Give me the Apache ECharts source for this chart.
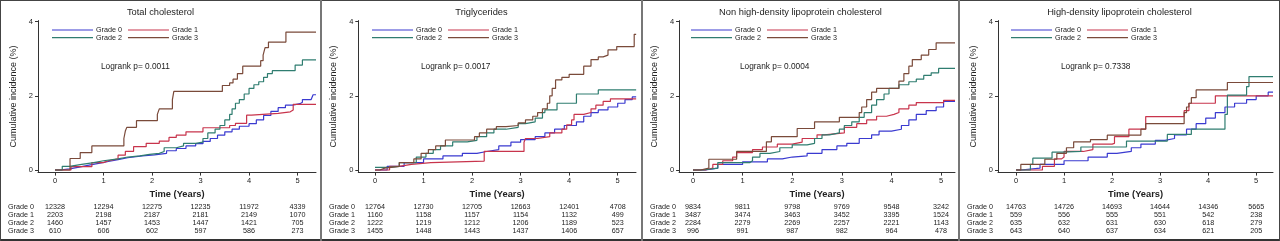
<!DOCTYPE html>
<html>
<head>
<meta charset="utf-8">
<script src="https://cdn.jsdelivr.net/npm/echarts@6/dist/echarts.min.js"></script>
<style>
  html, body { margin: 0; padding: 0; background: #fff; }
  #wrap { position: relative; width: 1280px; height: 241px; overflow: hidden; }
  .panel { position: absolute; top: 0; height: 241px; }
  .rule { position: absolute; background: #666; }
</style>
</head>
<body>
<div id="wrap"></div>
<script>
const grades = ['Grade 0', 'Grade 1', 'Grade 2', 'Grade 3'];
const gradeColors = ['#3a3ad0', '#c8344c', '#2f7d70', '#7a4a3a'];
const panelTitles = ['Total cholesterol', 'Triglycerides',
  'Non high-density lipoprotein cholesterol', 'High-density lipoprotein cholesterol'];
const logrankP = ['0.0011', '0.0017', '0.0004', '0.7338'];
const yearTicks = [0, 1, 2, 3, 4, 5];
const incidenceTicks = [0, 2, 4];

// cumulative incidence (%) step points: [years, value]
const tcGrade0 = [[0,0],[0.1,0.03],[0.3,0.08],[0.5,0.13],[0.7,0.18],[0.9,0.23],[1.1,0.28],[1.3,0.33],[1.5,0.38],[1.8,0.41],[2.05,0.45],[2.3,0.52],[2.5,0.58],[2.7,0.65],[2.9,0.71],[3.05,0.77],[3.2,0.85],[3.35,0.94],[3.5,1.03],[3.65,1.1],[3.8,1.18],[4.0,1.25],[4.15,1.35],[4.3,1.47],[4.45,1.58],[4.6,1.68],[4.75,1.75],[4.9,1.79],[5.05,1.83],[5.1,1.9],[5.28,1.93],[5.32,2.03],[5.38,2.03]];
const tcGrade1 = [[0,0],[0.33,0.09],[0.76,0.2],[1.0,0.25],[1.1,0.3],[1.3,0.4],[1.45,0.5],[1.62,0.63],[1.88,0.72],[2.15,0.78],[2.35,0.88],[2.5,0.94],[2.7,1.03],[3.05,1.14],[3.6,1.2],[3.72,1.26],[3.95,1.48],[4.05,1.53],[4.6,1.57],[4.85,1.62],[4.91,1.77],[5.38,1.77]];
const tcGrade2 = [[0,0],[0.15,0.1],[0.3,0.15],[0.55,0.2],[0.8,0.25],[1.0,0.3],[1.3,0.35],[1.5,0.38],[1.75,0.42],[1.95,0.45],[2.15,0.5],[2.25,0.6],[2.5,0.65],[2.65,0.72],[2.9,0.75],[3.05,0.85],[3.15,1.0],[3.3,1.1],[3.4,1.2],[3.5,1.35],[3.6,1.5],[3.65,1.65],[3.72,1.8],[3.8,1.9],[3.9,2.05],[4.0,2.2],[4.1,2.3],[4.2,2.38],[4.3,2.5],[4.38,2.6],[4.48,2.68],[4.95,2.83],[5.1,2.97],[5.38,2.97]];
const tcGrade3 = [[0,0],[0.31,0.31],[0.52,0.47],[0.76,0.65],[1.42,0.85],[1.45,1.05],[1.48,1.15],[1.68,1.33],[2.11,1.5],[2.15,1.65],[2.42,1.9],[2.45,2.12],[3.45,2.28],[3.6,2.35],[3.67,2.45],[3.76,2.6],[3.87,2.8],[4.24,2.95],[4.29,3.1],[4.33,3.3],[4.4,3.45],[4.76,3.72],[5.38,3.72]];

const tgGrade0 = [[0,0],[0.25,0.1],[0.6,0.2],[1.0,0.3],[1.4,0.38],[1.8,0.45],[2.1,0.5],[2.3,0.55],[2.55,0.65],[2.8,0.75],[3.0,0.82],[3.3,0.9],[3.5,1.0],[3.7,1.1],[3.9,1.2],[4.15,1.3],[4.3,1.45],[4.45,1.55],[4.6,1.62],[4.8,1.7],[5.0,1.8],[5.15,1.9],[5.3,1.97],[5.38,1.97]];
const tgGrade1 = [[0,0],[0.3,0.1],[0.5,0.15],[0.75,0.2],[1.15,0.24],[2.25,0.5],[3.07,0.75],[3.1,0.85],[3.35,0.9],[3.6,1.0],[3.85,1.1],[3.95,1.22],[4.05,1.35],[4.1,1.5],[4.3,1.55],[4.45,1.65],[4.55,1.75],[4.7,1.85],[4.85,1.92],[5.38,1.92]];
const tgGrade2 = [[0,0.07],[0.3,0.1],[0.5,0.2],[0.85,0.35],[1.05,0.45],[1.2,0.55],[1.35,0.65],[1.6,0.76],[1.9,0.8],[2.1,0.9],[2.3,1.0],[2.45,1.1],[2.7,1.15],[2.95,1.25],[3.1,1.3],[3.3,1.4],[3.45,1.55],[3.5,1.62],[3.75,1.8],[4.15,2.05],[4.6,2.16],[5.38,2.16]];
const tgGrade3 = [[0,0],[0.1,0.05],[0.2,0.1],[0.5,0.2],[0.8,0.3],[0.95,0.45],[1.1,0.55],[1.25,0.65],[1.45,0.81],[2.05,0.9],[2.15,1.0],[2.3,1.1],[2.5,1.17],[2.7,1.2],[2.95,1.27],[3.1,1.35],[3.25,1.45],[3.35,1.55],[3.45,1.65],[3.55,1.8],[3.6,2.0],[3.65,2.2],[3.72,2.43],[3.85,2.5],[4.0,2.58],[4.3,2.8],[4.45,2.98],[4.6,3.05],[4.7,3.1],[4.8,3.24],[4.98,3.33],[5.34,3.66],[5.38,3.66]];

const nhdlGrade0 = [[0,0],[0.25,0.05],[0.5,0.15],[1.0,0.22],[1.5,0.3],[1.8,0.35],[2.0,0.38],[2.3,0.45],[2.6,0.55],[2.9,0.65],[3.1,0.72],[3.35,0.85],[3.6,0.95],[3.75,1.05],[4.0,1.1],[4.2,1.2],[4.35,1.35],[4.5,1.5],[4.7,1.6],[4.9,1.7],[5.05,1.85],[5.28,1.85]];
const nhdlGrade1 = [[0,0],[0.25,0.05],[0.4,0.15],[0.6,0.25],[0.8,0.35],[0.88,0.47],[1.2,0.55],[1.4,0.62],[1.7,0.7],[2.0,0.75],[2.2,0.85],[2.5,0.95],[2.65,1.0],[3.05,1.15],[3.3,1.25],[3.5,1.35],[3.7,1.45],[3.9,1.5],[4.05,1.55],[4.15,1.65],[4.35,1.75],[4.5,1.82],[5.05,1.88],[5.28,1.88]];
const nhdlGrade2 = [[0,0],[0.2,0.05],[0.5,0.2],[1.15,0.25],[1.2,0.35],[1.35,0.45],[1.55,0.5],[1.75,0.6],[2.0,0.68],[2.3,0.72],[2.45,0.85],[2.6,0.95],[2.75,1.0],[2.95,1.1],[3.05,1.2],[3.2,1.3],[3.35,1.42],[3.45,1.55],[3.6,1.75],[3.7,1.9],[3.85,2.05],[3.95,2.2],[4.15,2.3],[4.35,2.38],[4.5,2.45],[4.65,2.55],[4.8,2.62],[4.95,2.74],[5.28,2.74]];
const nhdlGrade3 = [[0,0],[0.15,0.05],[0.32,0.29],[0.88,0.5],[1.48,0.76],[1.58,0.9],[2.1,1.12],[2.45,1.3],[2.95,1.42],[3.35,1.55],[3.4,1.7],[3.5,1.9],[3.6,2.1],[3.7,2.2],[4.15,2.4],[4.25,2.6],[4.35,2.8],[4.42,2.98],[4.6,3.1],[4.75,3.25],[4.9,3.43],[5.28,3.43]];

const hdlGrade0 = [[0,0],[0.1,0.05],[0.5,0.15],[1.0,0.25],[1.5,0.35],[1.9,0.45],[2.1,0.5],[2.4,0.6],[2.6,0.7],[2.9,0.8],[3.1,0.85],[3.3,0.95],[3.55,1.1],[3.75,1.25],[3.95,1.4],[4.15,1.55],[4.35,1.7],[4.55,1.8],[4.8,1.9],[5.0,2.0],[5.25,2.1],[5.35,2.1]];
const hdlGrade1 = [[0,0],[0.55,0.1],[0.8,0.3],[0.95,0.35],[1.0,0.5],[1.4,0.55],[1.6,0.7],[2.0,0.72],[2.05,0.9],[2.35,1.1],[2.7,1.44],[3.5,1.6],[3.6,1.8],[4.15,2.0],[5.35,2.0]];
const hdlGrade2 = [[0,0],[0.3,0.15],[0.35,0.32],[0.75,0.48],[0.95,0.5],[1.35,0.62],[2.3,0.78],[3.15,0.96],[3.65,1.1],[4.35,1.5],[4.4,2.02],[4.8,2.25],[4.85,2.52],[5.35,2.52]];
const hdlGrade3 = [[0,0],[0.1,0.15],[0.6,0.29],[0.85,0.45],[1.05,0.6],[1.2,0.76],[1.55,0.82],[1.9,0.94],[2.6,1.1],[2.7,1.25],[3.5,1.55],[3.55,1.7],[3.6,1.8],[3.65,1.95],[3.75,2.16],[4.4,2.36],[5.35,2.36]];

// numbers at risk, one row per grade, at years 0..5
const tcRisk = [[12328,12294,12275,12235,11972,4339],[2203,2198,2187,2181,2149,1070],[1460,1457,1453,1447,1421,705],[610,606,602,597,586,273]];
const tgRisk = [[12764,12730,12705,12663,12401,4708],[1160,1158,1157,1154,1132,499],[1222,1219,1212,1206,1189,523],[1455,1448,1443,1437,1406,657]];
const nhdlRisk = [[9834,9811,9798,9769,9548,3242],[3487,3474,3463,3452,3395,1524],[2284,2279,2269,2257,2221,1143],[996,991,987,982,964,478]];
const hdlRisk = [[14763,14726,14693,14644,14346,5665],[559,556,555,551,542,238],[635,632,631,630,618,279],[643,640,637,634,621,205]];

const panelCurves = [
  [tcGrade0, tcGrade1, tcGrade2, tcGrade3],
  [tgGrade0, tgGrade1, tgGrade2, tgGrade3],
  [nhdlGrade0, nhdlGrade1, nhdlGrade2, nhdlGrade3],
  [hdlGrade0, hdlGrade1, hdlGrade2, hdlGrade3]
];
const panelRisk = [tcRisk, tgRisk, nhdlRisk, hdlRisk];

// layout per panel
const panelLeft = [0, 321, 642, 959];
const panelWidth = [321, 321, 317, 321];
const axisLeft = [38, 37.3, 34.7, 39];
const axisRight = [316, 315, 313, 314];
const xMin = [-0.35, -0.344, -0.28, -0.375];
const xMax = [5.38, 5.377, 5.28, 5.35];
const legendLeft = [52, 51, 49, 52];
const logrankLeft = [101, 100, 98, 102];

const FONT = 'Liberation Sans, Arial, sans-serif';
const wrap = document.getElementById('wrap');

function rule(x, y, w, h, color) {
  const d = document.createElement('div');
  d.className = 'rule';
  d.style.left = x + 'px'; d.style.top = y + 'px';
  d.style.width = w + 'px'; d.style.height = h + 'px';
  if (color) d.style.background = color;
  wrap.appendChild(d);
}

panelTitles.forEach((title, p) => {
  const el = document.createElement('div');
  el.className = 'panel';
  el.style.left = panelLeft[p] + 'px';
  el.style.width = panelWidth[p] + 'px';
  wrap.appendChild(el);
  const chart = echarts.init(el, null, { renderer: 'canvas' });

  const series = grades.map((g, i) => ({
    name: g,
    type: 'line',
    step: 'end',
    symbol: 'none',
    showSymbol: false,
    data: panelCurves[p][i],
    lineStyle: { color: gradeColors[i], width: 1.2 },
    itemStyle: { color: gradeColors[i] },
    z: 2 + i
  }));

  const legendBase = {
    orient: 'horizontal',
    left: legendLeft[p],
    padding: 0,
    icon: 'rect',
    itemWidth: 41,
    itemHeight: 1.2,
    itemGap: 6,
    selectedMode: false,
    textStyle: { fontFamily: FONT, fontSize: 7.2, color: '#222', lineHeight: 8, padding: [0, 0, 0, -2] }
  };

  chart.setOption({
    animation: false,
    title: {
      text: title,
      left: 'center',
      top: 3,
      textStyle: { fontFamily: FONT, fontSize: 9.3, fontWeight: 'normal', color: '#222' }
    },
    legend: [
      Object.assign({}, legendBase, { top: 26, data: ['Grade 0', 'Grade 1'] }),
      Object.assign({}, legendBase, { top: 33.7, data: ['Grade 2', 'Grade 3'] })
    ],
    grid: {
      left: axisLeft[p],
      right: panelWidth[p] - axisRight[p],
      top: 20.6,
      bottom: 241 - 172.6
    },
    xAxis: {
      type: 'value',
      min: xMin[p],
      max: xMax[p],
      name: 'Time (Years)',
      nameLocation: 'middle',
      nameGap: 15,
      nameTextStyle: { fontFamily: FONT, fontSize: 9.3, fontWeight: 'bold', color: '#222' },
      axisLine: { onZero: false, lineStyle: { color: '#333', width: 1 } },
      axisTick: { length: 3, lineStyle: { color: '#333' }, customValues: yearTicks },
      axisLabel: { customValues: yearTicks, margin: 4, fontFamily: FONT, fontSize: 7.5, color: '#222' },
      splitLine: { show: false }
    },
    yAxis: {
      type: 'value',
      min: -0.07,
      max: 4.03,
      name: 'Cumulative incidence (%)',
      nameLocation: 'middle',
      nameGap: 20,
      nameTextStyle: { fontFamily: FONT, fontSize: 9, color: '#222' },
      axisLine: { show: true, onZero: false, lineStyle: { color: '#333', width: 1 } },
      axisTick: { show: true, length: 3, lineStyle: { color: '#333' }, customValues: incidenceTicks },
      axisLabel: { customValues: incidenceTicks, margin: 5, fontFamily: FONT, fontSize: 7.5, color: '#222' },
      splitLine: { show: false }
    },
    series: series
  });

  // logrank note and numbers-at-risk table, placed with the x scale
  const rowY = [207, 215, 223, 231];
  const graphics = [{
    type: 'text',
    left: logrankLeft[p],
    top: 63,
    style: { text: 'Logrank p= ' + logrankP[p], font: '8.3px ' + FONT, fill: '#222' }
  }];
  grades.forEach((g, r) => {
    graphics.push({
      type: 'text', x: 8, y: rowY[r],
      style: { text: g, font: '7.2px ' + FONT, fill: '#222', textVerticalAlign: 'middle' }
    });
    yearTicks.forEach((t, c) => {
      graphics.push({
        type: 'text',
        x: chart.convertToPixel({ xAxisIndex: 0 }, t),
        y: rowY[r],
        style: { text: String(panelRisk[p][r][c]), font: '7.2px ' + FONT, fill: '#222',
                 textAlign: 'center', textVerticalAlign: 'middle' }
      });
    });
  });
  chart.setOption({ graphic: graphics });
});

// panel frames
rule(0, 0, 1280, 1, '#444');
rule(0, 239, 1280, 2, '#333');
rule(0, 0, 1, 241, '#444');
rule(320, 0, 2, 241, '#777');
rule(641, 0, 2, 241, '#777');
rule(958, 0, 2, 241, '#777');
rule(1279, 0, 1, 241, '#444');
</script>
</body>
</html>
